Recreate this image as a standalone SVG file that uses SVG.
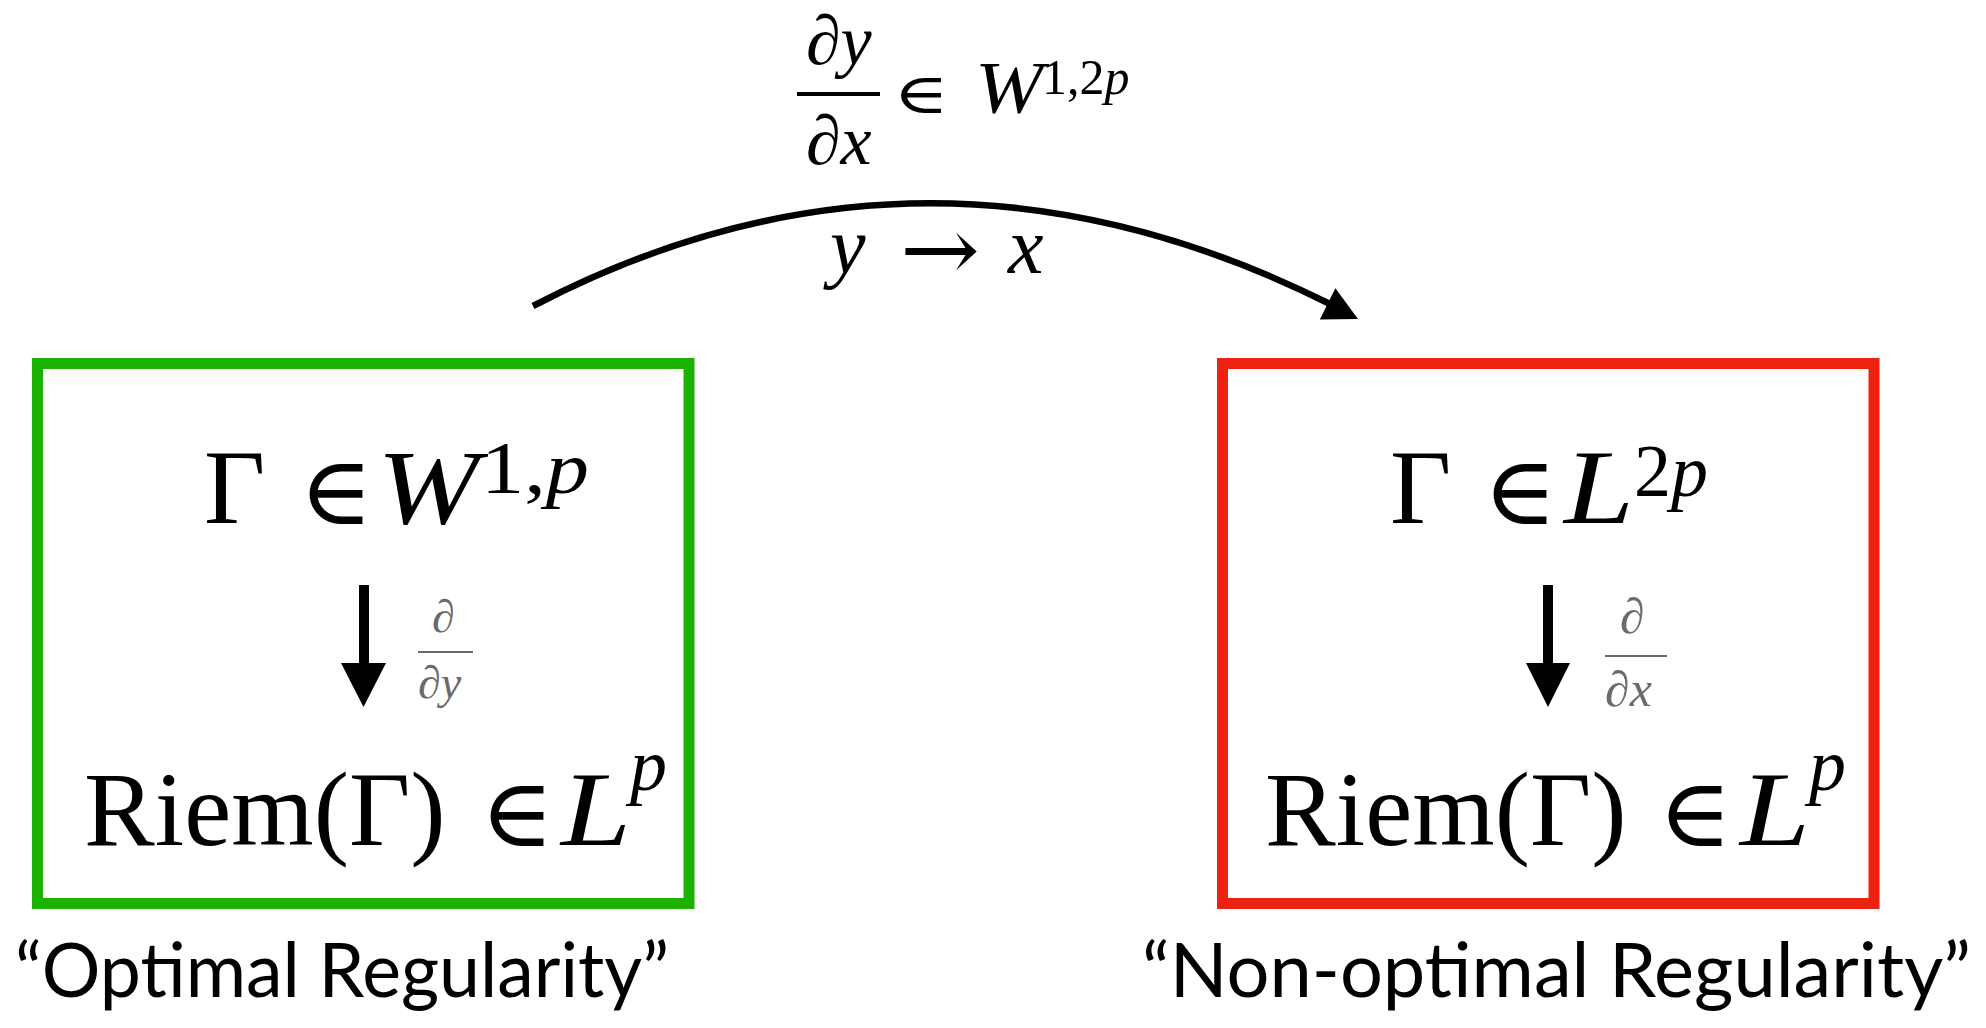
<svg xmlns="http://www.w3.org/2000/svg" width="1986" height="1028" viewBox="0 0 1986 1028">
<style>
.m{font-family:"Liberation Serif","DejaVu Serif",serif;fill:#000}
.it{font-style:italic}
.el{font-family:"DejaVu Serif",serif;fill:#000}
.g{fill:#6b6b6b}
.lab{font-family:Lato,"Open Sans",sans-serif;font-size:76px;fill:#000}
.box{fill:none;stroke-width:11}
</style>
<rect width="1986" height="1028" fill="#fff"/>
<g id="top-label">
<text class="m it" x="806" y="64" font-size="70">∂y</text>
<line x1="797" y1="94" x2="880" y2="94" stroke="#000" stroke-width="4"/>
<text class="m it" x="806" y="164" font-size="70">∂x</text>
<text class="el" x="893" y="113" font-size="56" textLength="56" lengthAdjust="spacingAndGlyphs">∈</text>
<text class="m it" x="975" y="113" font-size="74" textLength="68" lengthAdjust="spacingAndGlyphs">W</text>
<text class="m" x="1042" y="94" font-size="50">1,2<tspan class="it">p</tspan></text>
<text class="m it" x="830" y="273" font-size="80">y</text>
<text class="el" x="900" y="280" font-size="88" textLength="80" lengthAdjust="spacingAndGlyphs">→</text>
<text class="m it" x="1008" y="273" font-size="80">x</text>
</g>
<g id="optimal">
<rect class="box" x="37.5" y="363.5" width="651.5" height="540" stroke="#1db100"/>
<text class="m" x="204" y="523" font-size="106">Γ</text>
<text class="el" x="299" y="524" font-size="96" textLength="74" lengthAdjust="spacingAndGlyphs">∈</text>
<text class="m it" x="377" y="523" font-size="106" textLength="102" lengthAdjust="spacingAndGlyphs">W</text>
<text class="m" x="481" y="493" font-size="74" textLength="108" lengthAdjust="spacingAndGlyphs">1,<tspan class="it">p</tspan></text>
<text class="m g it" x="432" y="632" font-size="46">∂</text>
<line x1="418" y1="652" x2="473" y2="652" stroke="#6b6b6b" stroke-width="2"/>
<text class="m g it" x="418" y="698" font-size="46">∂y</text>
<text class="m" x="84" y="845" font-size="106">Riem(Γ)</text>
<text class="el" x="480" y="846" font-size="96" textLength="74" lengthAdjust="spacingAndGlyphs">∈</text>
<text class="m it" x="561" y="845" font-size="106" textLength="70" lengthAdjust="spacingAndGlyphs">L</text>
<text class="m it" x="630" y="790" font-size="74">p</text>
<text class="lab" x="15" y="997" textLength="654" lengthAdjust="spacingAndGlyphs">“Optimal Regularity”</text>
</g>
<g id="non-optimal">
<rect class="box" x="1222.5" y="363.5" width="651.5" height="540" stroke="#ee2211"/>
<text class="m" x="1390" y="523" font-size="106">Γ</text>
<text class="el" x="1483" y="524" font-size="96" textLength="74" lengthAdjust="spacingAndGlyphs">∈</text>
<text class="m it" x="1564" y="523" font-size="106" textLength="70" lengthAdjust="spacingAndGlyphs">L</text>
<text class="m" x="1634" y="496" font-size="74">2<tspan class="it">p</tspan></text>
<text class="m g it" x="1620" y="633" font-size="50">∂</text>
<line x1="1605" y1="656" x2="1667" y2="656" stroke="#6b6b6b" stroke-width="2"/>
<text class="m g it" x="1605" y="706" font-size="50">∂x</text>
<text class="m" x="1265" y="845" font-size="106">Riem(Γ)</text>
<text class="el" x="1658" y="846" font-size="96" textLength="74" lengthAdjust="spacingAndGlyphs">∈</text>
<text class="m it" x="1740" y="845" font-size="106" textLength="70" lengthAdjust="spacingAndGlyphs">L</text>
<text class="m it" x="1809" y="790" font-size="74">p</text>
<text class="lab" x="1142" y="997" textLength="829" lengthAdjust="spacingAndGlyphs">“Non-optimal Regularity”</text>
</g>
<g id="connectors">
<path d="M533,306 Q925.5,101.5 1330,304" fill="none" stroke="#000" stroke-width="6.5"/>
<polygon points="1358,319 1319.8,319.4 1335.4,288.2" fill="#000"/>
<line x1="364" y1="585" x2="364" y2="665" stroke="#000" stroke-width="10"/>
<polygon points="341,663 386,663 363.5,707" fill="#000"/>
<line x1="1548" y1="585" x2="1548" y2="665" stroke="#000" stroke-width="10"/>
<polygon points="1526,663 1570,663 1548,707" fill="#000"/>
</g>
</svg>
